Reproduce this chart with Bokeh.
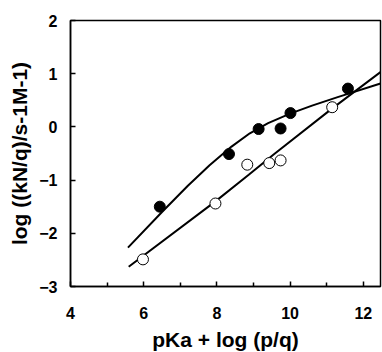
from bokeh.plotting import figure
from bokeh.models import Range1d, FixedTicker
from bokeh.embed import file_html
from bokeh.resources import INLINE

# Filled circles
filled_x = [6.44, 8.33, 9.14, 9.74, 10.01, 11.58]
filled_y = [-1.50, -0.51, -0.04, -0.03, 0.26, 0.72]

# Open circles
open_x = [5.98, 7.96, 8.83, 9.43, 9.74, 11.15]
open_y = [-2.49, -1.44, -0.71, -0.68, -0.63, 0.37]

# Fitted curve through filled points
curve1_x = [5.57, 6.5, 7.2, 7.8, 8.4, 8.9, 9.4, 10.0, 10.6, 11.3, 12.47]
curve1_y = [-2.27, -1.60, -1.11, -0.72, -0.37, -0.12, 0.07, 0.25, 0.40, 0.56, 0.815]

# Fitted line through open points
curve2_x = [5.59, 7.96, 8.87, 9.55, 11.10, 12.47]
curve2_y = [-2.63, -1.40, -0.90, -0.52, 0.32, 1.03]

x_ticks = [4, 6, 8, 10, 12]
x_minor = [5, 7, 9, 11]
y_ticks = [-3, -2, -1, 0, 1, 2]

FONT = "Liberation Sans"

p = figure(width=382, height=353, output_backend="svg", toolbar_location=None,
           x_range=Range1d(4, 12.47), y_range=Range1d(-3, 2),
           min_border_left=70, min_border_right=2, min_border_top=20, min_border_bottom=66)

p.xgrid.visible = False
p.ygrid.visible = False
p.outline_line_color = "black"
p.outline_line_width = 1.5
p.background_fill_color = "white"
p.border_fill_color = "white"

p.line(curve1_x, curve1_y, line_color="black", line_width=2)
p.line(curve2_x, curve2_y, line_color="black", line_width=2)
p.scatter(filled_x, filled_y, size=11, fill_color="black", line_color="black")
p.scatter(open_x, open_y, size=11, fill_color="white", line_color="black", line_width=1)

p.xaxis.ticker = FixedTicker(ticks=x_ticks, minor_ticks=x_minor)
p.yaxis.ticker = FixedTicker(ticks=y_ticks)

for ax in (p.xaxis, p.yaxis):
    ax.axis_line_width = 1.5
    ax.axis_line_color = "black"
    ax.major_tick_in = 5
    ax.major_tick_out = 0
    ax.minor_tick_in = 4
    ax.minor_tick_out = 0
    ax.major_tick_line_width = 1.5
    ax.minor_tick_line_width = 1.5
    ax.major_label_text_font = FONT
    ax.major_label_text_font_style = "bold"
    ax.major_label_text_font_size = "16px"
    ax.major_label_text_color = "black"
    ax.axis_label_text_font = FONT
    ax.axis_label_text_font_style = "bold"
    ax.axis_label_text_font_size = "21px"
    ax.axis_label_text_color = "black"

p.yaxis.minor_tick_line_color = None
p.xaxis.major_label_standoff = 20
p.yaxis.major_label_standoff = 13
p.xaxis.axis_label = "pKa + log (p/q)"
p.yaxis.axis_label = "log ((kN/q)/s-1M-1)"
p.xaxis.axis_label_standoff = 6
p.yaxis.axis_label_standoff = 5

open("out.html", "w").write(file_html(p, INLINE))
